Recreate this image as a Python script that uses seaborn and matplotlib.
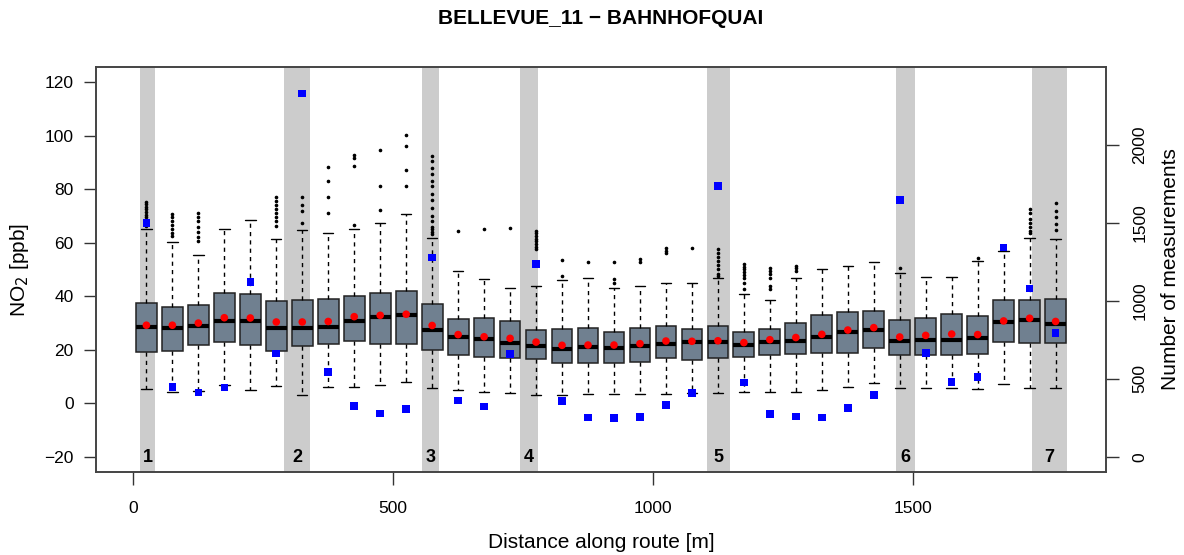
import numpy as np
import matplotlib
matplotlib.use("Agg")
import matplotlib.pyplot as plt
import seaborn as sns

# ---------------- data ----------------
distance = [25, 75, 125, 175, 225, 275, 325, 375, 425, 475, 525, 575,
            625, 675, 725, 775, 825, 875, 925, 975, 1025, 1075, 1125, 1175,
            1225, 1275, 1325, 1375, 1425, 1475, 1525, 1575, 1625, 1675, 1725, 1775]

q1 = [19.2, 19.6, 21.7, 22.8, 21.7, 19.6, 21.4, 22.0, 23.3, 22.0, 22.0, 20.0,
      17.9, 17.3, 17.1, 16.6, 15.2, 15.2, 15.2, 15.5, 16.8, 16.1, 16.8, 17.3,
      18.2, 18.5, 18.7, 18.9, 20.8, 17.9, 18.0, 18.0, 18.5, 22.9, 22.6, 22.4]
median = [28.5, 28.3, 28.9, 30.7, 30.7, 28.2, 28.0, 28.5, 30.8, 32.3, 32.9, 27.3,
          24.8, 23.9, 22.4, 21.5, 20.4, 20.9, 20.7, 21.6, 22.3, 22.9, 22.8, 21.8,
          23.0, 23.3, 24.9, 26.8, 27.3, 23.3, 23.5, 23.7, 24.3, 30.3, 31.2, 29.8]
q3 = [37.6, 36.1, 36.6, 41.2, 41.0, 38.1, 38.6, 38.8, 40.2, 41.2, 42.1, 37.0,
      31.4, 31.8, 30.9, 27.5, 27.7, 28.2, 26.7, 28.0, 28.8, 27.7, 29.0, 26.8,
      27.7, 30.2, 33.1, 34.2, 34.4, 31.0, 32.0, 33.4, 32.5, 38.6, 38.6, 38.8]
whisker_low = [5.5, 4.4, 4.5, 7.0, 5.0, 6.5, 3.2, 6.3, 6.2, 7.0, 7.9, 5.6,
               5.0, 4.2, 3.9, 3.1, 3.1, 3.7, 3.6, 3.6, 3.6, 4.0, 4.0, 4.4,
               4.4, 4.4, 5.0, 6.2, 7.8, 5.9, 5.9, 5.8, 5.3, 7.2, 5.6, 5.6]
whisker_high = [65.3, 60.3, 55.4, 65.0, 68.4, 61.3, 64.6, 63.6, 65.3, 67.4, 70.8, 61.6,
                49.3, 46.4, 43.0, 43.9, 46.0, 46.9, 43.0, 43.9, 45.0, 44.9, 47.0, 40.9,
                38.6, 47.0, 50.1, 51.4, 52.7, 48.8, 47.1, 47.1, 53.3, 56.9, 61.9, 61.3]
mean_no2 = [29.2, 29.2, 30.0, 32.0, 31.9, 30.4, 30.4, 30.6, 32.4, 32.9, 33.3, 29.1,
            25.7, 24.9, 24.3, 22.9, 21.7, 21.8, 21.8, 22.3, 23.3, 23.2, 23.4, 22.7,
            23.8, 24.6, 25.8, 27.4, 28.3, 24.8, 25.4, 25.9, 25.7, 30.8, 31.8, 30.6]
n_measurements = [1496, 449, 412, 444, 1120, 662, 2327, 545, 325, 278, 308, 1276,
                  361, 322, 658, 1235, 357, 254, 248, 256, 333, 408, 1733, 476,
                  274, 258, 252, 312, 395, 1645, 665, 479, 511, 1342, 1079, 793]
outliers = [
    [66.3, 67.5, 68.5, 69.5, 70.5, 71.5, 72.5, 73.5, 74.5, 75.3],
    [62.5, 63.5, 65.0, 66.5, 68.0, 69.5, 70.7],
    [60.5, 62.0, 64.0, 66.0, 68.0, 69.5, 71.1],
    [],
    [],
    [66.3, 68.0, 69.5, 71.0, 72.5, 74.0, 75.5, 76.9],
    [67.3, 72.0, 74.0, 77.1],
    [71.1, 77.1, 82.9, 88.3],
    [66.7, 88.7, 91.7, 92.8],
    [72.1, 81.2, 94.7],
    [81.0, 87.1, 96.0, 100.2],
    [63.2, 64.0, 65.0, 66.0, 68.0, 70.0, 73.0, 76.0, 78.0, 81.0, 83.0, 85.5, 88.0, 90.5, 92.4],
    [64.4],
    [65.3],
    [65.5],
    [57.5, 58.5, 59.5, 60.5, 61.5, 62.5, 63.5, 64.4],
    [47.6, 53.7],
    [52.9],
    [45.1, 46.3, 52.9],
    [52.8, 53.8],
    [56.3, 57.0, 58.2],
    [58.2],
    [47.6, 48.5, 50.0, 51.5, 53.0, 54.5, 56.0, 57.5],
    [42.6, 45.0, 47.0, 48.0, 49.0, 50.0, 51.0, 52.0],
    [42.6, 44.0, 47.0, 48.5, 49.5, 50.4],
    [49.4, 50.5, 51.4],
    [],
    [],
    [],
    [50.7],
    [],
    [],
    [54.4],
    [],
    [63.8, 64.5, 66.0, 67.5, 69.0, 71.0, 72.5],
    [64.9, 67.0, 69.5, 72.0, 74.9],
]
stop_labels = ["1", "2", "3", "4", "5", "6", "7"]
stop_start = [12, 290, 556, 744, 1104, 1467, 1729]
stop_end = [42, 340, 588, 779, 1148, 1504, 1796]

# ---------------- figure ----------------
sns.set_theme(style="white")
plt.rcParams['font.family'] = ['Liberation Sans', 'DejaVu Sans']
plt.rcParams['text.color'] = 'black'
plt.rcParams['axes.labelcolor'] = 'black'
plt.rcParams['xtick.color'] = 'black'
plt.rcParams['ytick.color'] = 'black'

W, H = 1184, 555
fig = plt.figure(figsize=(W / 100, H / 100), dpi=100)
ax = fig.add_axes([96 / W, 1 - 472 / H, (1106 - 96) / W, (472 - 67) / H])

for s, e, lab in zip(stop_start, stop_end, stop_labels):
    ax.axvspan(s, e, color='#cccccc', lw=0, zorder=0)
    ax.text((s + e) / 2, -20, lab, ha='center', va='center', color='black',
            fontweight='bold', fontsize=13, zorder=1)

stats = []
for i in range(len(distance)):
    stats.append(dict(med=median[i], q1=q1[i], q3=q3[i],
                      whislo=whisker_low[i], whishi=whisker_high[i],
                      fliers=np.array(outliers[i])))

ax.bxp(stats, positions=distance, widths=40, capwidths=20, patch_artist=True,
       showfliers=True, manage_ticks=False,
       boxprops=dict(facecolor='#708090', edgecolor='#222222', linewidth=1.1),
       medianprops=dict(color='black', linewidth=3),
       whiskerprops=dict(color='black', linestyle=(0, (3, 3)), linewidth=1),
       capprops=dict(color='black', linewidth=1),
       flierprops=dict(marker='o', markersize=1.6, markerfacecolor='black',
                       markeredgecolor='black', linestyle='none'))

sns.scatterplot(x=distance, y=mean_no2, ax=ax, color='red', s=30,
                edgecolor='none', zorder=5, legend=False)

ax.set_xlim(-72, 1872)
ax.set_ylim(-25.6, 125.6)
ax.set_xticks([0, 500, 1000, 1500])
ax.set_yticks([-20, 0, 20, 40, 60, 80, 100, 120])
ax.tick_params(axis='both', which='both', direction='out', length=9, width=1,
               colors='#333333', labelcolor='black', labelsize=12.5,
               bottom=True, left=True, pad=7)
ax.tick_params(axis='x', pad=12)
ax.set_xlabel('Distance along route [m]', fontsize=15, labelpad=12)
ax.set_ylabel('NO$_2$ [ppb]', fontsize=15, labelpad=10)

ax2 = ax.twinx()
sns.scatterplot(x=distance, y=n_measurements, ax=ax2, color='blue', marker='s',
                s=30, edgecolor='none', zorder=6, legend=False)
ax2.set_ylim(-96, 2496)
ax2.set_xlim(-72, 1872)
ax2.set_yticks([0, 500, 1000, 1500, 2000])
ax2.tick_params(axis='y', direction='out', length=9, width=1, colors='#333333',
                labelcolor='black', labelsize=12.5, right=True, pad=10,
                labelrotation=90)
for lbl in ax2.get_yticklabels():
    lbl.set_va('center')
ax2.set_ylabel('Number of measurements', fontsize=15, labelpad=10)

for a in (ax, ax2):
    for sp in a.spines.values():
        sp.set_visible(True)
        sp.set_color('#444444')
        sp.set_linewidth(1.2)

fig.text((96 + 1106) / 2 / W, 1 - 18 / H, 'BELLEVUE_11 \u2212 BAHNHOFQUAI',
         ha='center', va='center', fontsize=15, fontweight='bold', color='black')

fig.savefig('out.png', dpi=100)
